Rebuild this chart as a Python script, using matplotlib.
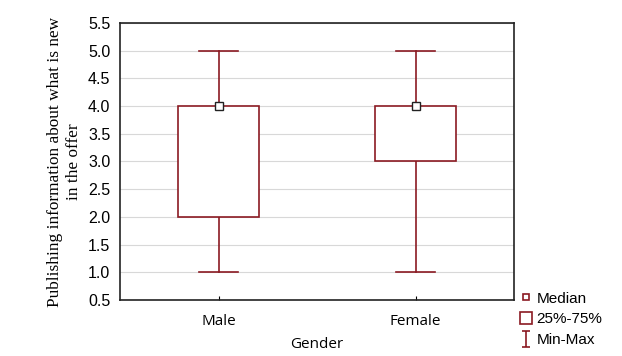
import matplotlib.pyplot as plt
from matplotlib.lines import Line2D
from matplotlib.patches import Rectangle
from matplotlib.path import Path

groups = ['Male', 'Female']
mins = [1.0, 1.0]
q1s = [2.0, 3.0]
medians = [4.0, 4.0]
q3s = [4.0, 4.0]
maxs = [5.0, 5.0]
yticks = [0.5, 1.0, 1.5, 2.0, 2.5, 3.0, 3.5, 4.0, 4.5, 5.0, 5.5]

col = '#8b1a22'
box_w = 0.41
cap_w = 0.2

fig = plt.figure(figsize=(6.22, 3.56), dpi=100)
ax = fig.add_axes([120/622, 1 - 300/356, 394/622, 277/356])

for i in range(len(groups)):
    # whiskers
    ax.plot([i, i], [mins[i], q1s[i]], color=col, lw=1.2, zorder=3)
    ax.plot([i, i], [q3s[i], maxs[i]], color=col, lw=1.2, zorder=3)
    ax.plot([i - cap_w/2, i + cap_w/2], [mins[i], mins[i]], color=col, lw=1.2, zorder=3)
    ax.plot([i - cap_w/2, i + cap_w/2], [maxs[i], maxs[i]], color=col, lw=1.2, zorder=3)
    # box
    ax.add_patch(Rectangle((i - box_w/2, q1s[i]), box_w, q3s[i] - q1s[i],
                           fill=True, facecolor='white', edgecolor=col, lw=1.2, zorder=3))
    ax.plot(i, medians[i], marker='s', ms=6, mfc='white', mec='#222222', mew=1.0, zorder=4)

ax.set_xlim(-0.5, 1.5)
ax.set_ylim(0.5, 5.5)
ax.set_yticks(yticks)
ax.set_yticklabels(['%.1f' % t for t in yticks], fontfamily='Liberation Sans', fontsize=11.5)
ax.set_xticks(range(len(groups)))
ax.set_xticklabels(groups, fontfamily='Open Sans', fontsize=11)
ax.tick_params(axis='x', direction='in', length=3, pad=10)
ax.tick_params(axis='y', length=0, pad=7)
ax.grid(axis='y', color='#d8d8d8', lw=0.8, zorder=0)
ax.set_axisbelow(True)
for s in ax.spines.values():
    s.set_linewidth(1.2)
    s.set_color('#222222')

ax.set_xlabel('Gender', fontfamily='Open Sans', fontsize=11, labelpad=6)
ax.set_ylabel('Publishing information about what is new\nin the offer',
              fontfamily='Liberation Serif', fontsize=12.4, labelpad=4, linespacing=1.3)

whisk = Path([(-0.5, 1), (0.5, 1), (0, 1), (0, -1), (-0.5, -1), (0.5, -1)],
             [Path.MOVETO, Path.LINETO, Path.MOVETO, Path.LINETO, Path.MOVETO, Path.LINETO])
handles = [
    Line2D([], [], ls='none', marker='s', ms=5, mfc='white', mec=col, mew=1.2),
    Line2D([], [], ls='none', marker='s', ms=9, mfc='white', mec=col, mew=1.2),
    Line2D([], [], ls='none', marker=whisk, ms=11, mfc='none', mec=col, mew=1.2),
]
fig.legend(handles, ['Median', '25%-75%', 'Min-Max'], loc='lower left',
           bbox_to_anchor=(513/622, 1/356), frameon=False, handlelength=0.7,
           handletextpad=0.35, labelspacing=0.45, borderpad=0,
           prop={'family': 'Liberation Sans', 'size': 11})

fig.savefig('out.png', dpi=100)
